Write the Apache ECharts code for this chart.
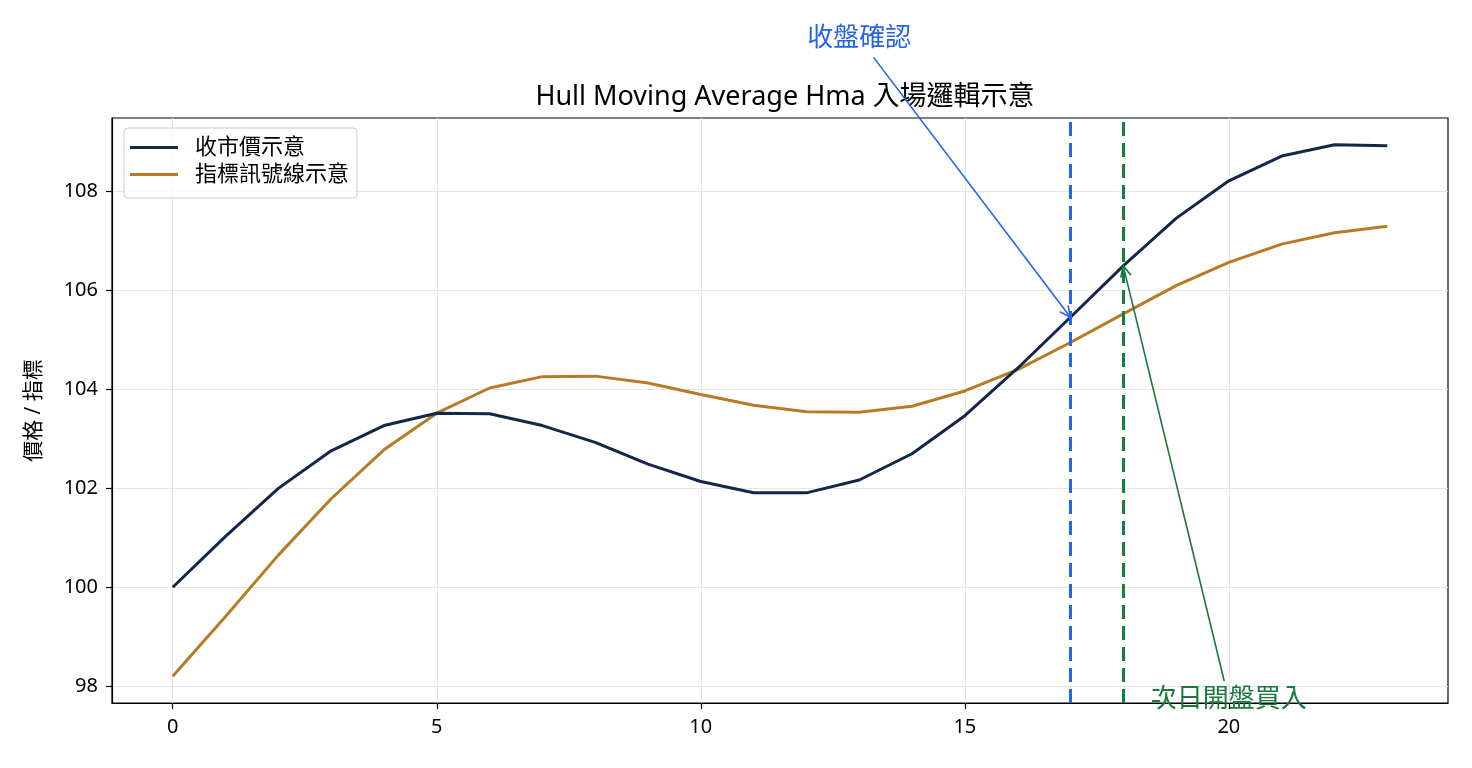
<!DOCTYPE html>
<html>
<head>
<meta charset="utf-8">
<script src="https://cdn.jsdelivr.net/npm/echarts@6/dist/echarts.min.js"></script>
<style>
  html, body { margin: 0; padding: 0; background: #fff; }
  #main { width: 1472px; height: 768px; }
</style>
</head>
<body>
<div id="main"></div>
<script>
// values
var days = [0, 1, 2, 3, 4, 5, 6, 7, 8, 9, 10, 11, 12, 13, 14, 15, 16, 17, 18, 19, 20, 21, 22, 23];
var closePrice = [100.0, 101.03, 102.0, 102.76, 103.27, 103.52, 103.51, 103.27, 102.93, 102.49, 102.14, 101.91,
                  101.91, 102.17, 102.70, 103.47, 104.43, 105.46, 106.50, 107.46, 108.22, 108.72, 108.95, 108.93];
var signalLine = [98.2, 99.41, 100.65, 101.79, 102.78, 103.52, 104.03, 104.26, 104.27, 104.13, 103.90, 103.68,
                  103.55, 103.54, 103.66, 103.97, 104.40, 104.95, 105.53, 106.10, 106.57, 106.94, 107.17, 107.30];
var xTicks = [0, 5, 10, 15, 20];
var yTicks = [98, 100, 102, 104, 106, 108];
var confirmDay = 17;
var entryDay = 18;

// annotations: text, text centre [x, y], arrow target [x, y]
var notes = [
  { text: '收盤確認', at: [13.0, 111.1], target: [17, 105.46], color: '#2563eb' },
  { text: '次日開盤買入', at: [20.0, 97.72], target: [18, 106.5], color: '#177a3c' }
];

var FONT = "'Noto Sans', 'Noto Sans CJK TC', sans-serif";

var chartDom = document.getElementById('main');
var myChart = echarts.init(chartDom);

function pairs(vals) {
  return vals.map(function (v, i) { return [days[i], v]; });
}

var option = {
  backgroundColor: '#fff',
  animation: false,
  title: {
    text: 'Hull Moving Average Hma 入場邏輯示意',
    left: 780,
    top: 79,
    textAlign: 'center',
    textStyle: { fontFamily: FONT, fontSize: 27, fontWeight: 'normal', color: '#000' }
  },
  legend: {
    left: 124,
    top: 128,
    orient: 'vertical',
    icon: 'rect',
    itemWidth: 48,
    itemHeight: 3,
    itemGap: 4,
    padding: [8, 8, 12, 6],
    borderColor: '#cccccc',
    borderWidth: 1,
    borderRadius: 4,
    backgroundColor: 'rgba(255,255,255,0.8)',
    textStyle: { fontFamily: FONT, fontSize: 22, color: '#000', lineHeight: 23, padding: [0, 0, 0, 12] },
    data: ['收市價示意', '指標訊號線示意']
  },
  grid: {
    left: 112, right: 24, top: 118, bottom: 65,
    show: true, borderColor: '#000', borderWidth: 1.2, backgroundColor: 'transparent'
  },
  xAxis: {
    type: 'value',
    min: -1.15,
    max: 24.15,
    axisLine: { show: true, onZero: false, lineStyle: { color: '#000', width: 1.2 } },
    axisTick: { show: true, length: 6, lineStyle: { color: '#000', width: 1.2 }, customValues: xTicks },
    axisLabel: { customValues: xTicks, margin: 14, fontFamily: FONT, fontSize: 20, color: '#000' },
    splitLine: { show: true, lineStyle: { color: '#e6e6e6', width: 1 } }
  },
  yAxis: {
    type: 'value',
    min: 97.66,
    max: 109.49,
    name: '價格 / 指標',
    nameLocation: 'middle',
    nameGap: 67,
    nameTextStyle: { fontFamily: FONT, fontSize: 21, color: '#000' },
    axisLine: { show: true, onZero: false, lineStyle: { color: '#000', width: 1.2 } },
    axisTick: { show: true, length: 6, lineStyle: { color: '#000', width: 1.2 }, customValues: yTicks },
    axisLabel: { customValues: yTicks, margin: 14, fontFamily: FONT, fontSize: 20, color: '#000' },
    splitLine: { show: true, lineStyle: { color: '#e6e6e6', width: 1 } }
  },
  series: [
    {
      name: '收市價示意',
      type: 'line',
      data: pairs(closePrice),
      showSymbol: false,
      symbol: 'none',
      lineStyle: { color: '#11284b', width: 3 },
      itemStyle: { color: '#11284b' },
      z: 3,
      markLine: {
        silent: true,
        symbol: ['none', 'none'],
        label: { show: false },
        data: [
          { xAxis: confirmDay, lineStyle: { color: '#2563eb', width: 3, type: [14, 7] } },
          { xAxis: entryDay, lineStyle: { color: '#15803d', width: 3, type: [14, 7] } }
        ]
      }
    },
    {
      name: '指標訊號線示意',
      type: 'line',
      data: pairs(signalLine),
      showSymbol: false,
      symbol: 'none',
      lineStyle: { color: '#b87a24', width: 3 },
      itemStyle: { color: '#b87a24' },
      z: 2
    }
  ]
};

option && myChart.setOption(option);

// arrows + texts placed through the chart's own scales
var gfx = [];
notes.forEach(function (n) {
  var c = myChart.convertToPixel({ gridIndex: 0 }, n.at);
  var t = myChart.convertToPixel({ gridIndex: 0 }, n.target);
  var dx = t[0] - c[0], dy = t[1] - c[1];
  var len = Math.sqrt(dx * dx + dy * dy);
  var ux = dx / len, uy = dy / len;
  var k = 19 / Math.abs(uy);
  var s = [c[0] + ux * k, c[1] + uy * k];
  var ang = Math.atan2(-uy, -ux);
  var head = 12, spread = 0.45;
  var h1 = [t[0] + head * Math.cos(ang + spread), t[1] + head * Math.sin(ang + spread)];
  var h2 = [t[0] + head * Math.cos(ang - spread), t[1] + head * Math.sin(ang - spread)];
  gfx.push({
    type: 'line', z: 50,
    shape: { x1: s[0], y1: s[1], x2: t[0], y2: t[1] },
    style: { stroke: n.color, lineWidth: 1.6 }
  });
  gfx.push({
    type: 'polyline', z: 50,
    shape: { points: [h1, t, h2] },
    style: { stroke: n.color, lineWidth: 1.6, fill: null }
  });
  gfx.push({
    type: 'text', z: 60,
    x: c[0], y: c[1],
    style: {
      text: n.text, fill: n.color, font: '26px ' + FONT,
      align: 'center', verticalAlign: 'middle'
    }
  });
});
myChart.setOption({ graphic: gfx });
</script>
</body>
</html>
